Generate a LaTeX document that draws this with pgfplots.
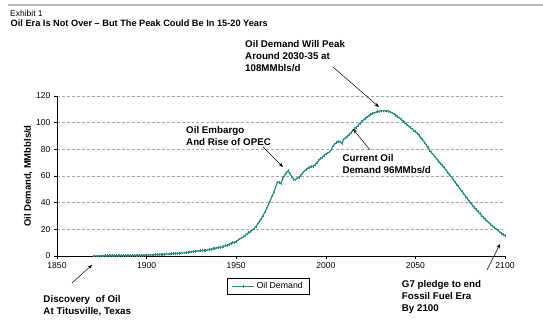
\documentclass[border=0pt]{standalone}
\usepackage{pgfplots}
\pgfplotsset{compat=1.18}
\usepackage{fontspec}
\setmainfont{Liberation Sans}
\usetikzlibrary{arrows.meta}
\definecolor{tealc}{RGB}{38,142,130}
\begin{document}
\begin{tikzpicture}[x=1bp,y=1bp]
\useasboundingbox (0,0) rectangle (543,331);
\draw[gray!55, line width=1.2bp] (8,326) -- (543,326);
\node[anchor=base west, inner sep=0, font=\fontsize{8.5}{9}\selectfont] at (10,315) {Exhibit 1};
\node[anchor=base west, inner sep=0, font=\bfseries\fontsize{9.25}{10}\selectfont] at (10.5,305) {Oil Era Is Not Over -- But The Peak Could Be In 15-20 Years};
\begin{axis}[
  at={(57bp,75bp)}, anchor=south west,
  scale only axis, width=448bp, height=160bp,
  xmin=1850, xmax=2100, ymin=0, ymax=120,
  axis x line=bottom, axis y line=left,
  axis line style={-, black, line width=0.8bp},
  xtick={1850,1900,1950,2000,2050,2100},
  ytick={0,20,40,60,80,100,120},
  tick align=outside, major tick length=3bp,
  tick style={black, line width=0.6bp},
  ymajorgrids, grid style={densely dashed, gray!70, line width=0.4bp},
  /pgf/number format/1000 sep={},
  /pgf/number format/assume math mode=true,
  ticklabel style={font=\fontsize{8.6}{9}\selectfont},
  ylabel={\bfseries Oil Demand, MMbbls/d},
  ylabel style={font=\fontsize{9.5}{10}\selectfont, yshift=-3bp},
  legend style={at={(0.471,-0.19)}, anchor=center, draw=black, line width=0.5bp,
    font=\fontsize{8.8}{10}\selectfont, inner xsep=4bp, inner ysep=2bp},
  legend image post style={xscale=1.3},
  legend cell align=left,
]
\addplot[color=tealc, line width=1.2bp, mark=|, mark size=1.3bp, mark options={line width=0.6bp}] coordinates {
(1870,0.1)(1871,0.1)(1872,0.1)(1873,0.1)(1874,0.15)(1875,0.15)(1876,0.15)(1877,0.2)(1878,0.2)(1879,0.2)
(1880,0.2)(1881,0.25)(1882,0.25)(1883,0.25)(1884,0.3)(1885,0.3)(1886,0.3)(1887,0.35)(1888,0.35)(1889,0.4)
(1890,0.4)(1891,0.4)(1892,0.45)(1893,0.45)(1894,0.5)(1895,0.5)(1896,0.55)(1897,0.55)(1898,0.6)(1899,0.6)
(1900,0.7)(1901,0.75)(1902,0.8)(1903,0.85)(1904,0.9)(1905,0.95)(1906,1.0)(1907,1.1)(1908,1.15)(1909,1.2)
(1910,1.3)(1911,1.4)(1912,1.5)(1913,1.6)(1914,1.7)(1915,1.8)(1916,1.9)(1917,2.0)(1918,2.1)(1919,2.2)
(1920,2.3)(1921,2.4)(1922,2.6)(1923,2.8)(1924,3.0)(1925,3.1)(1926,3.3)(1927,3.5)(1928,3.7)(1929,3.9)
(1930,4.0)(1931,4.0)(1932,4.1)(1933,4.3)(1934,4.5)(1935,4.8)(1936,5.1)(1937,5.5)(1938,5.7)(1939,6.0)
(1940,6.3)(1941,6.6)(1942,6.8)(1943,7.2)(1944,7.7)(1945,8.0)(1946,8.6)(1947,9.3)(1948,10.0)(1949,10.3)
(1950,11.0)(1951,12.0)(1952,12.8)(1953,13.5)(1954,14.2)(1955,15.5)(1956,16.6)(1957,17.5)(1958,18.2)(1959,19.5)
(1960,20.8)(1961,22.2)(1962,24.0)(1963,26.0)(1964,28.2)(1965,30.5)(1966,33.0)(1967,35.5)(1968,38.5)(1969,41.5)
(1970,45.0)(1971,48.0)(1972,51.5)(1973,55.5)(1974,55.0)(1975,54.5)(1976,58.0)(1977,60.5)(1978,62.5)(1979,64.0)
(1980,61.5)(1981,59.5)(1982,57.5)(1983,57.0)(1984,58.5)(1985,58.8)(1986,60.5)(1987,62.0)(1988,63.8)(1989,65.0)
(1990,66.0)(1991,66.5)(1992,67.0)(1993,67.2)(1994,68.5)(1995,70.0)(1996,71.5)(1997,73.2)(1998,73.8)(1999,75.5)
(2000,76.5)(2001,77.3)(2002,78.0)(2003,79.5)(2004,82.5)(2005,84.0)(2006,85.0)(2007,86.0)(2008,85.5)(2009,84.5)
(2010,87.5)(2011,88.5)(2012,89.8)(2013,91.2)(2014,92.5)(2015,94.2)(2016,95.5)(2017,96.5)(2018,98.0)(2019,99.5)
(2020,100.8)(2021,102.0)(2022,103.2)(2023,104.2)(2024,105.2)(2025,106.0)(2026,106.8)(2027,107.4)(2028,107.9)(2029,108.3)
(2030,108.6)(2031,108.8)(2032,108.9)(2033,108.9)(2034,108.8)(2035,108.5)(2036,108.0)(2037,107.3)(2038,106.5)(2039,105.6)
(2040,104.6)(2041,103.5)(2042,102.4)(2043,101.2)(2044,100.0)(2045,98.8)(2046,97.6)(2047,96.4)(2048,95.3)(2049,94.3)
(2050,93.2)(2051,92.0)(2052,90.6)(2053,89.0)(2054,87.2)(2055,85.3)(2056,83.3)(2057,81.3)(2058,79.3)(2059,77.5)
(2060,75.8)(2061,74.2)(2062,72.6)(2063,71.0)(2064,69.4)(2065,67.8)(2066,66.2)(2067,64.5)(2068,62.8)(2069,61.0)
(2070,59.2)(2071,57.4)(2072,55.6)(2073,53.8)(2074,52.0)(2075,50.2)(2076,48.4)(2077,46.6)(2078,44.8)(2079,43.0)
(2080,41.0)(2081,39.4)(2082,37.8)(2083,36.2)(2084,34.7)(2085,33.2)(2086,31.8)(2087,30.3)(2088,28.9)(2089,27.5)
(2090,26.2)(2091,24.9)(2092,23.7)(2093,22.5)(2094,21.3)(2095,20.2)(2096,19.1)(2097,18.1)(2098,17.1)(2099,16.1)
(2100,15.2)};
\addlegendentry{Oil Demand}
\end{axis}
\tikzset{ann/.style={anchor=base west, inner sep=0, font=\bfseries\fontsize{9.8}{11}\selectfont},
  arr/.style={black, line width=0.5bp, -{Stealth[length=4.5bp, width=3.5bp]}}}
\node[ann] at (245,283.3) {Oil Demand Will Peak};
\node[ann] at (245,271.7) {Around 2030-35 at};
\node[ann] at (245,260) {108MMbls/d};
\draw[arr] (333,264) -- (379,224);
\node[ann] at (186,197.7) {Oil Embargo};
\node[ann] at (186,186) {And Rise of OPEC};
\draw[arr] (263,184) -- (283,164);
\node[ann] at (342.3,169.3) {Current Oil};
\node[ann] at (342.3,157.5) {Demand 96MMbs/d};
\draw[arr] (370,181) -- (353,202);
\node[ann] at (43.3,28.3) {Discovery\ \ of Oil};
\node[ann] at (43.3,16.7) {At Titusville, Texas};
\draw[arr] (72,48) -- (92,66);
\node[ann] at (401.7,43.3) {G7 pledge to end};
\node[ann] at (401.7,31.7) {Fossil Fuel Era};
\node[ann] at (401.7,20) {By 2100};
\draw[arr] (487,61) -- (500,87);
\end{tikzpicture}
\end{document}
